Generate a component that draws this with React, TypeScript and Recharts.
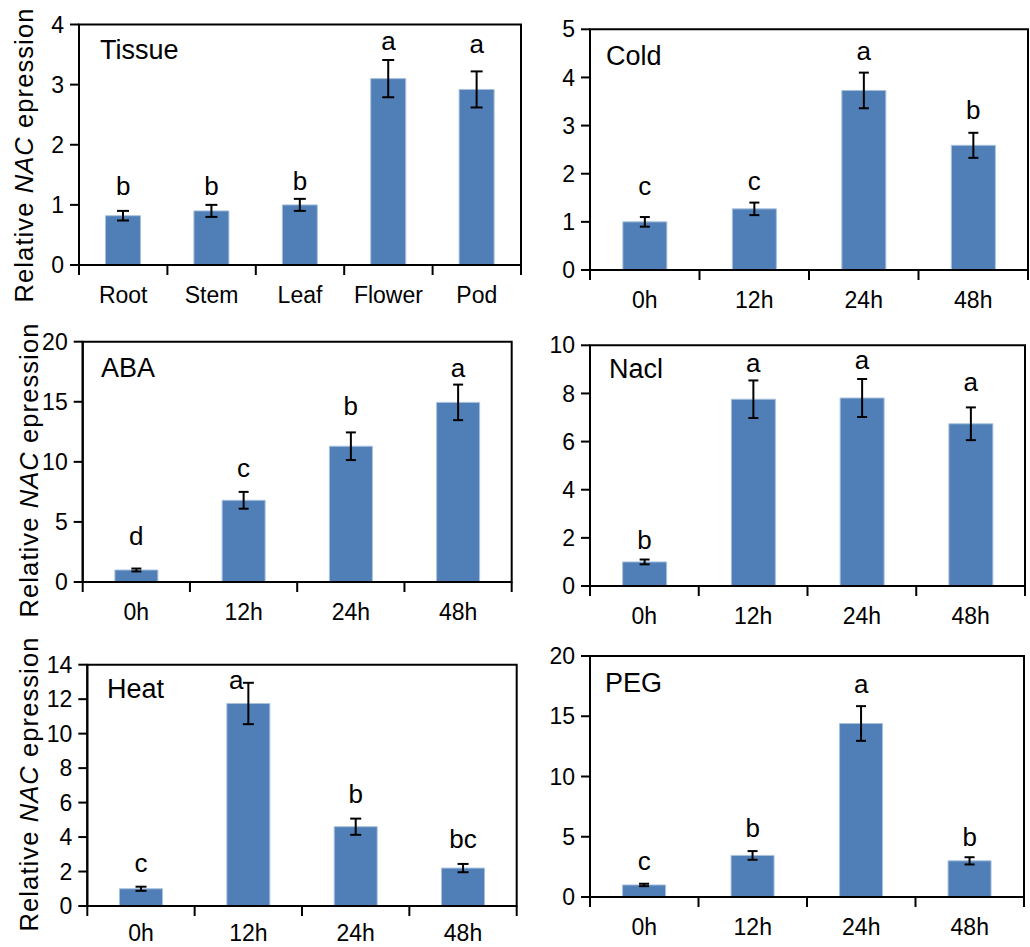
import { ComposedChart, Bar, Line, XAxis, YAxis, ErrorBar, ReferenceArea } from 'recharts'

const FONT = '"Liberation Sans", Arial, Helvetica, sans-serif'
const BLUE = '#4f7fb6'

// Tissue panel
const tissueCats = ['Root', 'Stem', 'Leaf', 'Flower', 'Pod']
const tissueVals = [0.82, 0.9, 1.0, 3.1, 2.92]
const tissueErr = [0.08, 0.1, 0.1, 0.31, 0.3]
const tissueLetters = ['b', 'b', 'b', 'a', 'a']
const tissueLetterY = [1.17, 1.17, 1.25, 3.58, 3.52]
const tissueTicks = [0, 1, 2, 3, 4]

// time course panels share the same categories
const timeCats = ['0h', '12h', '24h', '48h']

const coldVals = [1.0, 1.27, 3.73, 2.59]
const coldErr = [0.1, 0.13, 0.37, 0.26]
const coldLetters = ['c', 'c', 'a', 'b']
const coldLetterY = [1.56, 1.66, 4.37, 3.13]
const coldTicks = [0, 1, 2, 3, 4, 5]

const abaVals = [1.0, 6.8, 11.3, 14.95]
const abaErr = [0.12, 0.7, 1.15, 1.48]
const abaLetters = ['d', 'c', 'b', 'a']
const abaLetterY = [3.08, 8.78, 13.9, 17.1]
const abaTicks = [0, 5, 10, 15, 20]

const naclVals = [1.0, 7.76, 7.81, 6.74]
const naclErr = [0.1, 0.78, 0.79, 0.68]
const naclLetters = ['b', 'a', 'a', 'a']
const naclLetterY = [1.52, 8.9, 9.0, 8.1]
const naclTicks = [0, 2, 4, 6, 8, 10]

const heatVals = [1.0, 11.75, 4.6, 2.2]
const heatErr = [0.12, 1.2, 0.47, 0.24]
const heatLetters = ['c', 'a', 'b', 'bc']
const heatLetterY = [1.99, 12.57, 5.96, 3.34]
const heatTicks = [0, 2, 4, 6, 8, 10, 12, 14]

const pegVals = [1.0, 3.45, 14.4, 3.0]
const pegErr = [0.1, 0.36, 1.44, 0.3]
const pegLetters = ['c', 'b', 'a', 'b']
const pegLetterY = [2.28, 4.94, 16.9, 4.21]
const pegTicks = [0, 5, 10, 15, 20]

interface Box {
  left: number
  top: number
  width: number
  height: number
  mTop: number
  mRight: number
  yWidth: number
  xHeight: number
  cap: number
  labelDy?: number
  shiftIdx?: number // letter that sits beside its error bar
}

// x tick: label in the band centre, tick marks on the band edges
function EdgeTick(props: any) {
  const { x, y, payload, index, visibleTicksCount, labelDy } = props
  const half = payload?.offset || (props.width ? props.width / visibleTicksCount / 2 : 0)
  return (
    <g>
      <line x1={x - half} x2={x - half} y1={y} y2={y + 10} stroke="#000" strokeWidth={2} />
      {index === visibleTicksCount - 1 && (
        <line x1={x + half} x2={x + half} y1={y} y2={y + 10} stroke="#000" strokeWidth={2} />
      )}
      <text x={x} y={y + (labelDy ?? 38)} textAnchor="middle" fontSize={23} fontFamily={FONT} fill="#000">
        {payload.value}
      </text>
    </g>
  )
}

interface PanelProps {
  box: Box
  cats: string[]
  vals: number[]
  errs: number[]
  letters: string[]
  letterY: number[]
  ticks: number[]
}

function Panel({ box, cats, vals, errs, letters, letterY, ticks }: PanelProps) {
  const data = cats.map((c, i) => ({ cat: c, v: vals[i], err: errs[i], ly: letterY[i] }))
  const max = ticks[ticks.length - 1]
  return (
    <div style={{ position: 'absolute', left: box.left, top: box.top }}>
      <ComposedChart
        width={box.width}
        height={box.height}
        data={data}
        margin={{ top: box.mTop, right: box.mRight, left: 0, bottom: 0 }}
        barCategoryGap="30%"
      >
        <XAxis
          dataKey="cat"
          height={box.xHeight}
          interval={0}
          tickSize={0}
          tickMargin={0}
          tickLine={false}
          axisLine={{ stroke: '#000', strokeWidth: 2 }}
          tick={<EdgeTick labelDy={box.labelDy} />}
        />
        <YAxis
          domain={[0, max]}
          ticks={ticks}
          interval={0}
          allowDataOverflow
          width={box.yWidth}
          tickSize={9}
          tickMargin={6}
          axisLine={{ stroke: '#000', strokeWidth: 2 }}
          tickLine={{ stroke: '#000', strokeWidth: 2 }}
          tick={{ fill: '#000', fontSize: 23, fontFamily: FONT }}
        />
        <ReferenceArea y1={0} y2={max} fill="none" stroke="#000" strokeWidth={2} ifOverflow="visible" />
        <Bar dataKey="v" fill={BLUE} stroke="#a9c1de" strokeWidth={1} isAnimationActive={false}>
          <ErrorBar dataKey="err" width={box.cap} stroke="#000" strokeWidth={2} />
        </Bar>
        <Line
          dataKey="ly"
          stroke="none"
          dot={false}
          activeDot={false}
          isAnimationActive={false}
          label={(p: any) => (
            <text
              key={`l${p.index}`}
              x={p.x + (p.index === box.shiftIdx ? -12 : 0)}
              y={p.y}
              textAnchor="middle"
              fontSize={26}
              fontFamily={FONT}
              fill="#000"
            >
              {letters[p.index]}
            </text>
          )}
        />
      </ComposedChart>
    </div>
  )
}

function YTitle({ x, y }: { x: number; y: number }) {
  return (
    <text
      transform={`translate(${x},${y}) rotate(-90)`}
      textAnchor="middle"
      fontSize={25.5}
      letterSpacing={1.1}
      fontFamily={FONT}
      fill="#000"
    >
      Relative <tspan fontStyle="italic">NAC</tspan> epression
    </text>
  )
}

function PanelTitle({ x, y, text }: { x: number; y: number; text: string }) {
  return (
    <text x={x} y={y} fontSize={27} fontFamily={FONT} fill="#000">
      {text}
    </text>
  )
}

export default function App() {
  return (
    <div
      style={{
        position: 'absolute',
        left: 0,
        top: 0,
        width: 1030,
        height: 947,
        overflow: 'hidden',
        background: '#fff',
      }}
    >
      <Panel
        box={{ left: 0, top: 0, width: 530, height: 315, mTop: 24.5, mRight: 9, yWidth: 79, xHeight: 50, cap: 6 }}
        cats={tissueCats}
        vals={tissueVals}
        errs={tissueErr}
        letters={tissueLetters}
        letterY={tissueLetterY}
        ticks={tissueTicks}
      />
      <Panel
        box={{ left: 530, top: 0, width: 500, height: 320, mTop: 29.3, mRight: 2, yWidth: 60, xHeight: 50, cap: 5 }}
        cats={timeCats}
        vals={coldVals}
        errs={coldErr}
        letters={coldLetters}
        letterY={coldLetterY}
        ticks={coldTicks}
      />
      <Panel
        box={{ left: 0, top: 320, width: 530, height: 312, mTop: 21.7, mRight: 18.3, yWidth: 82.7, xHeight: 50, cap: 5 }}
        cats={timeCats}
        vals={abaVals}
        errs={abaErr}
        letters={abaLetters}
        letterY={abaLetterY}
        ticks={abaTicks}
      />
      <Panel
        box={{ left: 530, top: 320, width: 500, height: 316, mTop: 25.3, mRight: 5, yWidth: 60, xHeight: 50, cap: 5 }}
        cats={timeCats}
        vals={naclVals}
        errs={naclErr}
        letters={naclLetters}
        letterY={naclLetterY}
        ticks={naclTicks}
      />
      <Panel
        box={{
          left: 0,
          top: 630,
          width: 530,
          height: 317,
          mTop: 34.7,
          mRight: 13.3,
          yWidth: 87.3,
          xHeight: 41,
          cap: 5.5,
          labelDy: 35,
          shiftIdx: 1,
        }}
        cats={timeCats}
        vals={heatVals}
        errs={heatErr}
        letters={heatLetters}
        letterY={heatLetterY}
        ticks={heatTicks}
      />
      <Panel
        box={{ left: 530, top: 630, width: 500, height: 317, mTop: 26, mRight: 6, yWidth: 60, xHeight: 50, cap: 5 }}
        cats={timeCats}
        vals={pegVals}
        errs={pegErr}
        letters={pegLetters}
        letterY={pegLetterY}
        ticks={pegTicks}
      />
      <svg
        width={1030}
        height={947}
        style={{ position: 'absolute', left: 0, top: 0, pointerEvents: 'none' }}
      >
        <YTitle x={33} y={155} />
        <YTitle x={38} y={470} />
        <YTitle x={38} y={784} />
        <PanelTitle x={100} y={59} text="Tissue" />
        <PanelTitle x={606} y={65} text="Cold" />
        <PanelTitle x={101} y={377} text="ABA" />
        <PanelTitle x={609} y={378} text="Nacl" />
        <PanelTitle x={107} y={698} text="Heat" />
        <PanelTitle x={605} y={692} text="PEG" />
      </svg>
    </div>
  )
}
